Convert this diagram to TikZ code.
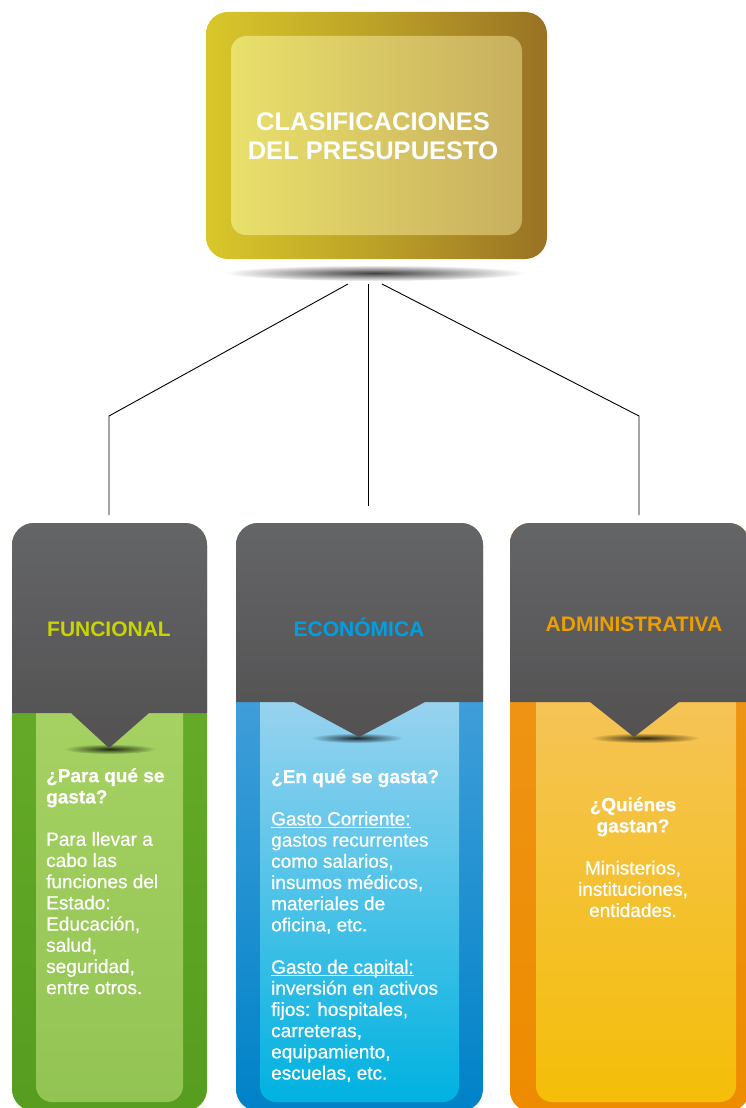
\documentclass[tikz,border=0pt]{standalone}
\usepackage{fontspec}
\setmainfont{Liberation Sans}
\newfontfamily\medfont[FakeBold=0.7]{Liberation Sans}
\usetikzlibrary{fadings}
\newcommand\myul[1]{\setbox0\hbox{#1}\rlap{\rule[-2.6pt]{\wd0}{1.1pt}}\box0}
\tikzfading[name=shfade, inner color=transparent!0, outer color=transparent!100]
\definecolor{hdTop}{HTML}{646567}
\definecolor{hdBot}{HTML}{535152}
\definecolor{gOutT}{HTML}{6CB02B}
\definecolor{gOutB}{HTML}{569D20}
\definecolor{gInT}{HTML}{A6D263}
\definecolor{gInM}{HTML}{B4DD76}
\definecolor{gInB}{HTML}{92C454}
\definecolor{bOutT}{HTML}{5AAAE0}
\definecolor{bOutB}{HTML}{0082C8}
\definecolor{bInT}{HTML}{A0D4F0}
\definecolor{bInM}{HTML}{3ABCE7}
\definecolor{bInB}{HTML}{00B2E0}
\definecolor{oOutT}{HTML}{EE961C}
\definecolor{oOutB}{HTML}{EE8C00}
\definecolor{oInT}{HTML}{F5C45A}
\definecolor{oInM}{HTML}{F5C85E}
\definecolor{oInB}{HTML}{F4BE08}
\definecolor{tOutL}{HTML}{D9C72A}
\definecolor{tOutM}{HTML}{BBA128}
\definecolor{tOutR}{HTML}{997224}
\definecolor{tInL}{HTML}{E9E06B}
\definecolor{tInR}{HTML}{C8AF5F}
\definecolor{cFun}{HTML}{C9D400}
\definecolor{cEco}{HTML}{009FE3}
\definecolor{cAdm}{HTML}{EE9F00}
\begin{document}
\begin{tikzpicture}[x=1pt,y=-1pt,
  header/.style={top color=hdTop,bottom color=hdBot},
  shadowfx/.style={fill=black,opacity=0.8,path fading=shfade},
  connector/.style={draw=black,line width=0.9pt},
  headlabel/.style={font=\bfseries\fontsize{21}{24}\selectfont,inner sep=0pt,anchor=base},
  bodytext/.style={text=white,inner sep=0pt,font=\medfont\fontsize{19}{21.2}\selectfont},
  titletext/.style={text=white,inner sep=0pt,align=center,font=\bfseries\fontsize{25.5}{29}\selectfont}]
\useasboundingbox (0,0) rectangle (746,1108);

% ---------- top box ----------
\shade[left color=tOutL,right color=tOutR,middle color=tOutM,rounded corners=22pt] (206,12) rectangle (547,259);
\shade[left color=tInL,right color=tInR,rounded corners=15pt] (231,36) rectangle (522,235);
\node[titletext] (title) at (373,136) {CLASIFICACIONES\\DEL PRESUPUESTO};
\fill[black,opacity=0.75,path fading=shfade] (375,273) ellipse [x radius=150,y radius=8];

% ---------- connectors ----------
\coordinate (s1) at (348,284);
\coordinate (s2) at (368,284);
\coordinate (s3) at (382,284);
\coordinate (k1) at (109,416);
\coordinate (k3) at (639,416);
\coordinate (e1) at (109,515);
\coordinate (e2) at (368,506);
\coordinate (e3) at (639,515);
\draw[connector] (s1) -- (k1) -- (e1);
\draw[connector] (s2) -- (e2);
\draw[connector] (s3) -- (k3) -- (e3);

% ---------- column 1 ----------
\begin{scope}
\clip[rounded corners=22pt] (12,523) rectangle (207,1111);
\shade[top color=gOutT,bottom color=gOutB] (12,523) rectangle (207,1111);
\shade[top color=gInT,middle color=gInM,bottom color=gInB,rounded corners=16pt] (36,690) rectangle (183,1102);
\fill[shadowfx] (110,749) ellipse [x radius=46,y radius=5];
\shade[header] (12,523) -- (207,523) -- (207,713) -- (149,713) -- (109,748) -- (71,713) -- (12,713) -- cycle;
\end{scope}
\node[headlabel,text=cFun] (h1) at (109,636) {FUNCIONAL};
\node[bodytext,anchor=north west,align=left] (t1) at (46,768)
 {\textbf{¿Para qué se}\\\textbf{gasta?}\\[21.2pt]Para llevar a\\cabo las\\funciones del\\Estado:\\Educación,\\salud,\\seguridad,\\entre otros.};

% ---------- column 2 ----------
\begin{scope}
\clip[rounded corners=22pt] (236,523) rectangle (483,1111);
\shade[top color=bOutT,bottom color=bOutB] (236,523) rectangle (483,1111);
\shade[top color=bInT,middle color=bInM,bottom color=bInB,rounded corners=16pt] (260,680) rectangle (459,1102);
\fill[shadowfx] (357,738) ellipse [x radius=46,y radius=5];
\shade[header] (236,523) -- (483,523) -- (483,702) -- (425,702) -- (359,737) -- (294,702) -- (236,702) -- cycle;
\end{scope}
\node[headlabel,text=cEco] (h2) at (359,636) {ECONÓMICA};
\node[bodytext,anchor=north west,align=left] (t2) at (271,769)
 {\textbf{¿En qué se gasta?}\\[21pt]\myul{Gasto Corriente:}\\gastos recurrentes\\como salarios,\\insumos médicos,\\materiales de\\oficina, etc.\\[21pt]\myul{Gasto de capital:}\\inversión en activos\\fijos: hospitales,\\carreteras,\\equipamiento,\\escuelas, etc.};

% ---------- column 3 ----------
\begin{scope}
\clip[rounded corners=20pt] (510,523) rectangle (749,1111);
\shade[top color=oOutT,bottom color=oOutB] (510,523) rectangle (749,1111);
\shade[top color=oInT,middle color=oInM,bottom color=oInB,rounded corners=16pt] (536,680) rectangle (736,1102);
\fill[shadowfx] (645,738) ellipse [x radius=55,y radius=5];
\shade[header] (510,523) -- (749,523) -- (749,702) -- (679,702) -- (634,737) -- (590,702) -- (510,702) -- cycle;
\end{scope}
\node[headlabel,text=cAdm] (h3) at (634,631) {ADMINISTRATIVA};
\node[bodytext,anchor=north,align=center] (t3) at (633,797)
 {\textbf{¿Quiénes}\\\textbf{gastan?}\\[21pt]Ministerios,\\instituciones,\\entidades.};
\end{tikzpicture}
\end{document}
